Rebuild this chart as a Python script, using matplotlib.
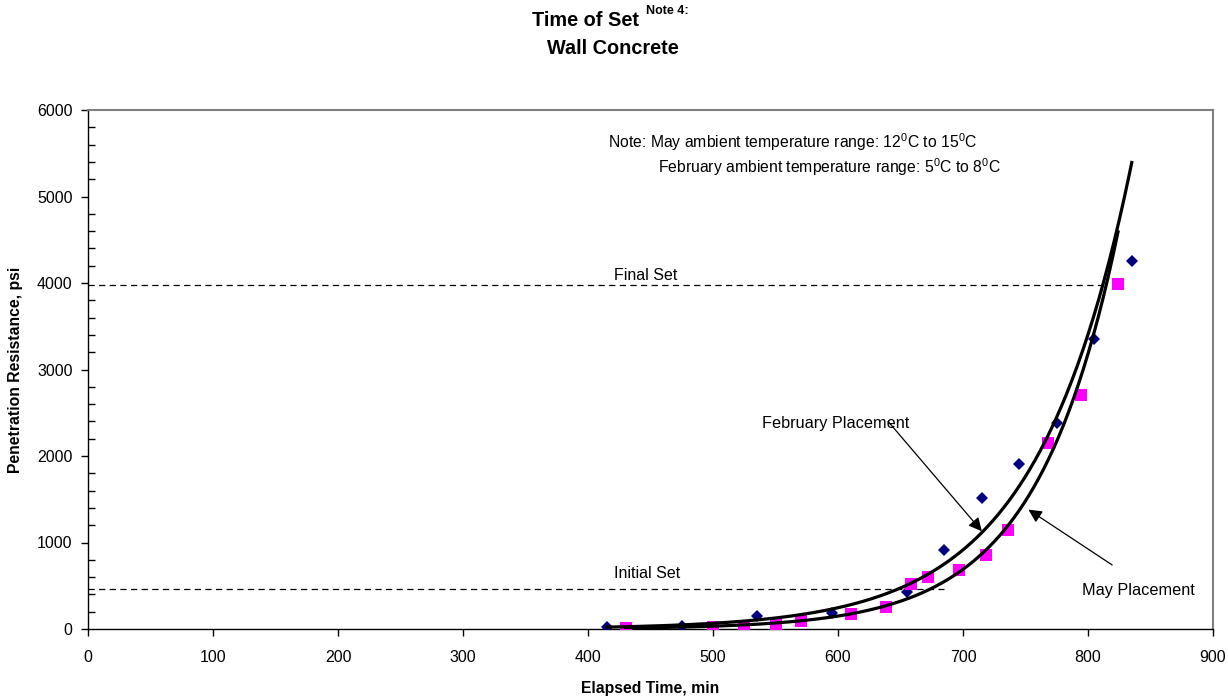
import matplotlib
matplotlib.use("Agg")
import matplotlib.pyplot as plt
import numpy as np

# February placement (diamonds)
feb_time = [415, 475, 535, 595, 655, 685, 715, 745, 775, 805, 835]
feb_psi = [20, 40, 150, 180, 430, 915, 1520, 1905, 2380, 3350, 4250]

# May placement (squares)
may_time = [430, 500, 525, 550, 570, 610, 638, 658, 672, 697, 718, 736, 768, 794, 824]
may_psi = [16, 25, 33, 60, 95, 170, 260, 520, 600, 680, 850, 1150, 2150, 2700, 3990]

initial_set = 465
final_set = 3975

plt.rcParams['font.family'] = ['Liberation Sans', 'DejaVu Sans']
plt.rcParams['mathtext.fontset'] = 'custom'
plt.rcParams['mathtext.rm'] = 'Liberation Sans'

fig = plt.figure(figsize=(12.28, 6.96), dpi=100)
ax = fig.add_axes([88 / 1228, 1 - 629 / 696, (1213 - 88) / 1228, (629 - 110) / 696])


def exp_fit(x, y):
    # excel style exponential trendline: straight line fit of ln(y)
    b, lna = np.polyfit(x, np.log(y), 1)
    return lna, b


def trend_line(x, y):
    lna, b = exp_fit(x, y)
    xs = np.linspace(min(x), max(x), 300)
    return xs, np.exp(lna + b * xs)


def x_at(x, y, level):
    lna, b = exp_fit(x, y)
    return (np.log(level) - lna) / b


ax.plot(feb_time, feb_psi, 'D', color='#000080', ms=6.3, mew=0, zorder=3)
ax.plot(may_time, may_psi, 's', color='#FF00FF', ms=8, mew=0, zorder=3)

xs, ys = trend_line(feb_time, feb_psi)
ax.plot(xs, ys, color='black', lw=2.3, zorder=4)
xs, ys = trend_line(may_time, may_psi)
ax.plot(xs, ys, color='black', lw=2.3, zorder=4)

ax.plot([0, 685], [initial_set, initial_set], color='black', lw=0.9, ls=(0, (5, 3.5)))
ax.plot([0, 812], [final_set, final_set], color='black', lw=0.9, ls=(0, (5, 3.5)))
ax.text(421, initial_set + 85, 'Initial Set', fontsize=11.5, va='bottom')
ax.text(421, final_set + 25, 'Final Set', fontsize=11.5, va='bottom')

ax.text(416, 5630, 'Note: May ambient temperature range: 12$^{0}$C to 15$^{0}$C',
        fontsize=11.3, va='center')
ax.text(456, 5340, 'February ambient temperature range: 5$^{0}$C to 8$^{0}$C',
        fontsize=11.3, va='center')

arrow = dict(arrowstyle='-|>', color='black', lw=0.9, mutation_scale=20, shrinkA=0, shrinkB=0)
feb_tip = (x_at(feb_time, feb_psi, 1130) - 1, 1130)
ax.annotate('', xy=feb_tip, xytext=(feb_tip[0] - 75, feb_tip[1] + 1270), arrowprops=arrow)
ax.text(539, 2380, 'February Placement', fontsize=11.7, va='center')
may_tip = (x_at(may_time, may_psi, 1380) + 7, 1380)
ax.annotate('', xy=may_tip, xytext=(may_tip[0] + 67, may_tip[1] - 640), arrowprops=arrow)
ax.text(795, 450, 'May Placement', fontsize=11.7, va='center')

ax.set_xlim(0, 900)
ax.set_ylim(0, 6000)
ax.set_xticks(np.arange(0, 901, 100))
ax.set_yticks(np.arange(0, 6001, 1000))
ax.set_yticks(np.arange(0, 6001, 200), minor=True)
ax.tick_params(axis='both', which='major', direction='out', length=5, width=1,
               labelsize=11.5, pad=6)
ax.tick_params(axis='x', pad=10)
ax.tick_params(axis='y', which='minor', direction='in', length=5, width=1)

for side in ['top', 'right']:
    ax.spines[side].set_color('#808080')
    ax.spines[side].set_linewidth(1.5)
for side in ['left', 'bottom']:
    ax.spines[side].set_color('black')
    ax.spines[side].set_linewidth(1)

ax.set_xlabel('Elapsed Time, min', fontsize=11.3, fontweight='bold', labelpad=12)
ax.set_ylabel('Penetration Resistance, psi', fontsize=11.3, fontweight='bold', labelpad=10)

fig.text(639 / 1228, 1 - 20 / 696, 'Time of Set', fontsize=14.3, fontweight='bold',
         ha='right', va='center')
fig.text(646 / 1228, 1 - 11 / 696, 'Note 4:', fontsize=9, fontweight='bold',
         ha='left', va='center')
fig.text(613 / 1228, 1 - 48 / 696, 'Wall Concrete', fontsize=14.3, fontweight='bold',
         ha='center', va='center')

fig.savefig('out.png', dpi=100)
